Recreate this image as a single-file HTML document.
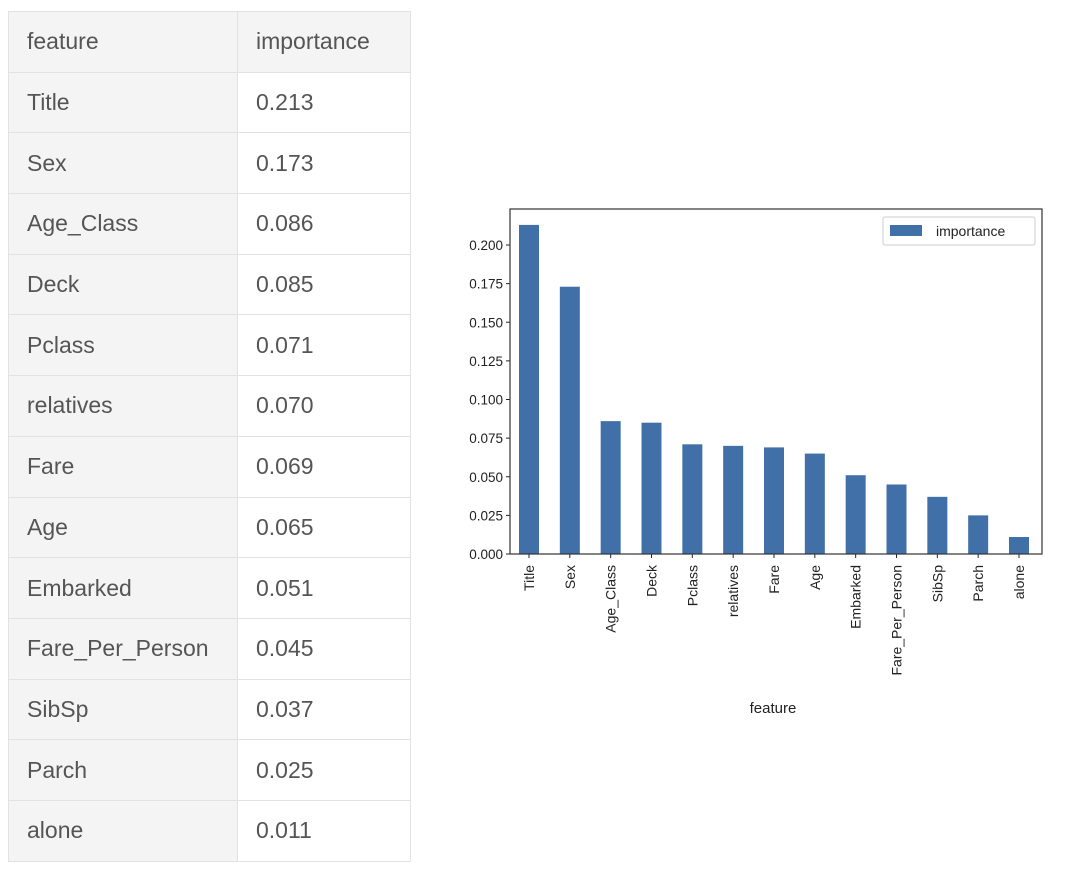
<!DOCTYPE html>
<html><head><meta charset="utf-8"><style>
body{margin:0;width:1080px;height:872px;background:#fff;overflow:hidden;position:relative;font-family:"Liberation Sans",sans-serif}
table{position:absolute;left:8px;top:11px;border-collapse:collapse;font-size:23px;color:#555}
td{border:1.5px solid #e2e2e2;height:60.7px;padding:0 0 0 18px;box-sizing:border-box}
td.a{width:229px;background:#f4f4f4}
td.b{width:173px;background:#fff}
tr.h td{background:#f4f4f4}
svg{position:absolute;left:0;top:0}
</style></head><body>
<table><tbody id="tb">
<tr class="h"><td class="a">feature</td><td class="b">importance</td></tr>
</tbody></table>
<svg id="chart" width="1080" height="872"></svg>
<script>
const categories=["Title","Sex","Age_Class","Deck","Pclass","relatives","Fare","Age","Embarked","Fare_Per_Person","SibSp","Parch","alone"];
const values=[0.213,0.173,0.086,0.085,0.071,0.070,0.069,0.065,0.051,0.045,0.037,0.025,0.011];
const valueLabels=["0.213","0.173","0.086","0.085","0.071","0.070","0.069","0.065","0.051","0.045","0.037","0.025","0.011"];
const yTicks=[0,0.025,0.05,0.075,0.1,0.125,0.15,0.175,0.2];
const yTickLabels=["0.000","0.025","0.050","0.075","0.100","0.125","0.150","0.175","0.200"];

const tb=document.getElementById('tb');
categories.forEach((c,i)=>{
  const tr=document.createElement('tr');
  
  
  const a=document.createElement('td');a.className='a';a.textContent=c;
  
  
  const b=document.createElement('td');b.className='b';b.textContent=valueLabels[i];
  
  
  tr.appendChild(a);tr.appendChild(b);tb.appendChild(tr);
});

const NS='http://www.w3.org/2000/svg',svg=document.getElementById('chart');
const L=510,R=1042,T=209,B=554;
const y=v=>B-v*(554-245)/0.2;
const step=(1019-529)/12;
const x=i=>529+i*step;
function mk(t,at,txt){const e=document.createElementNS(NS,t);for(const k in at)e.setAttribute(k,at[k]);if(txt!=null)e.textContent=txt;svg.appendChild(e);return e;}
values.forEach((v,i)=>{
  const r=mk('rect',{x:x(i)-10,y:y(v),width:20,height:B-y(v),fill:'#4170a9'});
  
  
  const t=mk('text',{transform:`translate(${x(i)+5},565) rotate(-90)`,'text-anchor':'end','font-size':14,fill:'#222'},categories[i]);
  
  
  mk('line',{x1:x(i),x2:x(i),y1:B,y2:B+4,stroke:'#222'});
});
yTicks.forEach((v,i)=>{
  mk('line',{x1:L-4,x2:L,y1:y(v),y2:y(v),stroke:'#222'});
  const t=mk('text',{x:L-7,y:y(v)+5,'text-anchor':'end','font-size':13.5,fill:'#222'},yTickLabels[i]);
  
  
});
const fr=mk('rect',{x:L,y:T,width:R-L,height:B-T,fill:'none',stroke:'#333','stroke-width':1.2});


const xt=mk('text',{x:773,y:713,'text-anchor':'middle','font-size':15,fill:'#222'},'feature');


const lg=mk('rect',{x:883,y:217,width:152,height:28,fill:'#fff',stroke:'#ccc',rx:2});


mk('rect',{x:890,y:225,width:32,height:11,fill:'#4170a9'});
const lt=mk('text',{x:936,y:236,'font-size':14,fill:'#222'},'importance');


</script>
</body></html>
